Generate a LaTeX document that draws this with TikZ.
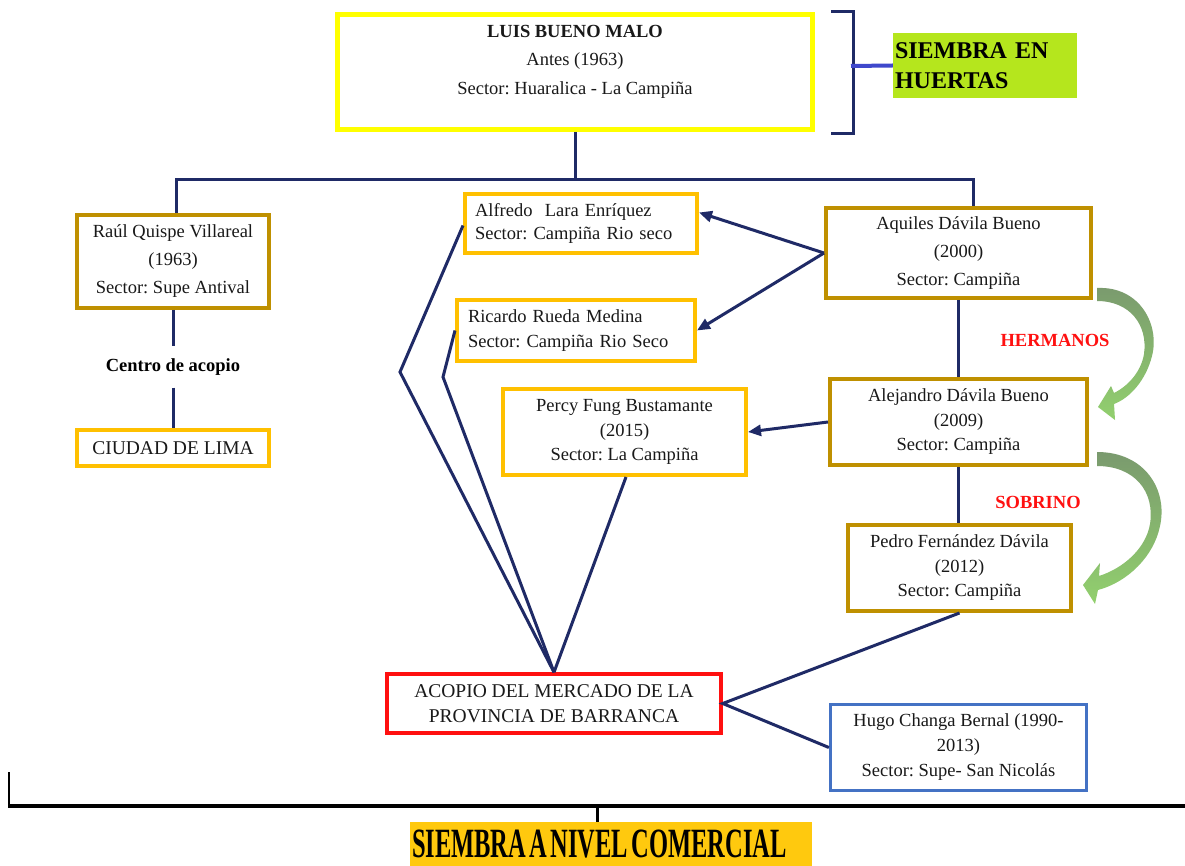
\documentclass[tikz,border=0pt]{standalone}
\usepackage{fontspec}
\setmainfont{Liberation Serif}
\usepackage{graphicx}
\usetikzlibrary{arrows.meta}
\frenchspacing

\definecolor{navyline}{HTML}{1F2A66}
\definecolor{goldline}{HTML}{BF9000}
\definecolor{amberline}{HTML}{FFC000}
\definecolor{topyellow}{HTML}{FFFF00}
\definecolor{limefill}{HTML}{B5E61D}
\definecolor{orangefill}{HTML}{FFC90E}
\definecolor{hugoblue}{HTML}{4472C4}
\definecolor{tickblue}{HTML}{3F48CC}
\definecolor{kinred}{HTML}{FF1010}
\definecolor{arrowtop}{RGB}{122,154,110}
\definecolor{arrowbottom}{RGB}{146,208,110}

\begin{document}
\begin{tikzpicture}[x=1pt,y=-1pt]
    \tikzset{
        link/.style={navyline, line width=3pt},
        arrowlink/.style={link, -{Triangle[length=13pt,width=11pt]}},
        person/.style={draw, fill=white, inner sep=0pt, align=center, text=black!90, font=\fontsize{18.5}{24.5}\selectfont},
        topbox/.style={person, draw=topyellow, line width=5pt},
        goldbox/.style={person, draw=goldline, line width=4pt},
        amberbox/.style={person, draw=amberline, line width=4pt},
        leftbox/.style={amberbox, align=left, inner xsep=10pt},
        kintext/.style={text=kinred, font=\fontsize{18.5}{22}\selectfont\bfseries},
        greenarrow/.style={top color=arrowtop, bottom color=arrowbottom, draw=none}
    }

    \fill[white] (0,0) rectangle (1185,866);
    \useasboundingbox (0,0) rectangle (1185,866);

    % --- 1. RAIZ ---
    \node[topbox, minimum width=475pt, minimum height=115pt, font=\fontsize{18.5}{28.5}\selectfont] (luis) at (575,72)
        {\textbf{LUIS BUENO MALO}\\Antes (1963)\\Sector: Huaralica - La Campiña\\[-4pt]\mbox{}};

    \draw[link] (831,12) -- (853,12) -- (853,134) -- (831,134);
    \coordinate (bracketmid) at (851,66);
    \node[fill=limefill, text width=180pt, align=left, inner sep=2pt, minimum height=65pt,
          font=\fontsize{24}{30}\selectfont\bfseries] (huertas) at (985,65.5) {SIEMBRA EN\\HUERTAS};
    \draw[tickblue, line width=4pt] (bracketmid) -- (huertas.west);

    % --- 2. PRODUCTORES ---
    \node[goldbox, minimum width=192pt, minimum height=93pt, font=\fontsize{18.5}{28}\selectfont] (raul) at (173,261.5)
        {Raúl Quispe Villareal\\(1963)\\Sector: Supe Antival};
    \node[font=\fontsize{18.5}{22}\selectfont\bfseries, inner xsep=2pt, inner ysep=12pt] (centro) at (173,367) {Centro de acopio};
    \node[amberbox, minimum width=192pt, minimum height=36pt, font=\fontsize{19.5}{24}\selectfont] (lima) at (173,448) {CIUDAD DE LIMA};

    \node[leftbox, text width=212pt, minimum height=59pt, font=\fontsize{18.5}{23.5}\selectfont] (alfredo) at (581,223.5)
        {Alfredo~ Lara Enríquez\\Sector: Campiña Rio seco};
    \node[leftbox, inner xsep=11pt, text width=216pt, minimum height=61pt, font=\fontsize{18.5}{25}\selectfont] (ricardo) at (576,330.5)
        {Ricardo Rueda Medina\\Sector: Campiña Rio Seco};
    \node[amberbox, minimum width=243pt, minimum height=86pt] (percy) at (624.5,432)
        {Percy Fung Bustamante\\(2015)\\Sector: La Campiña};

    \node[goldbox, minimum width=265pt, minimum height=90pt, font=\fontsize{18.5}{28}\selectfont] (aquiles) at (958.5,253)
        {Aquiles Dávila Bueno\\(2000)\\Sector: Campiña};
    \node[goldbox, minimum width=257pt, minimum height=86pt] (alejandro) at (958.5,422)
        {Alejandro Dávila Bueno\\(2009)\\Sector: Campiña};
    \node[goldbox, minimum width=223pt, minimum height=86pt] (pedro) at (959.5,568)
        {Pedro Fernández Dávila\\(2012)\\Sector: Campiña};

    \node[kintext] (hermanos) at (1055,340) {HERMANOS};
    \node[kintext] (sobrino) at (1038,502) {SOBRINO};

    % --- 3. MERCADO ---
    \node[person, draw=kinred, line width=3.5pt, minimum width=334pt, minimum height=59pt, font=\fontsize{19.5}{25}\selectfont] (acopio) at (554,703.5)
        {ACOPIO DEL MERCADO DE LA\\PROVINCIA DE BARRANCA};
    \node[person, draw=hugoblue, line width=3.3pt, minimum width=256pt, minimum height=86pt, font=\fontsize{18.5}{25}\selectfont] (hugo) at (958.5,747.5)
        {Hugo Changa Bernal (1990-\\2013)\\Sector: Supe- San Nicolás};

    % Conexiones
    \coordinate (bus) at (575,180);
    \draw[link] (luis.south) -- (bus);
    \draw[link] ([xshift=3pt]raul.north) |- (bus) -| ([xshift=14.5pt]aquiles.north);
    \draw[link] (raul.south) -- (centro.north);
    \draw[link] (centro.south) -- (lima.north);

    \coordinate (kinkA) at (400,372);
    \coordinate (kinkB) at (443,377);
    \draw[link] ([yshift=-2pt]alfredo.west) -- (kinkA) -- (acopio.north);
    \draw[link] (ricardo.west) -- (kinkB) -- (acopio.north);
    \draw[link] ([xshift=1.5pt]percy.south) -- (acopio.north);
    \draw[link] (pedro.south) -- (acopio.east) -- (hugo.west);

    \draw[arrowlink] (aquiles.west) -- ([yshift=11pt]alfredo.east);
    \draw[arrowlink] (aquiles.west) -- (ricardo.east);
    \draw[arrowlink] (alejandro.west) -- (percy.east);

    \draw[link] (aquiles.south) -- (alejandro.north);
    \draw[link] (alejandro.south) -- (pedro.north -| alejandro.south);

    % Flechas verdes
    \shade[greenarrow] (1097,288) .. controls (1140,286) and (1160,325) .. (1152,356)
        .. controls (1146,380) and (1130,398) .. (1114,404) -- (1115,420) -- (1098,407) -- (1111,386) -- (1114,393)
        .. controls (1128,386) and (1141,372) .. (1144,354)
        .. controls (1148,325) and (1130,301) .. (1097,301) -- cycle;
    \shade[greenarrow] (1097,452) .. controls (1145,452) and (1168,490) .. (1160,526)
        .. controls (1154,556) and (1128,582) .. (1098,590) -- (1095,604) -- (1083,585) -- (1100,563) -- (1099,576)
        .. controls (1124,568) and (1146,548) .. (1150,524)
        .. controls (1155,492) and (1135,466) .. (1097,466) -- cycle;

    % --- 4. BASE ---
    \draw[black, line width=1.5pt] (9,772) -- (9,806);
    \draw[black, line width=4pt] (8,806) -- (1185,806);
    \coordinate (basebar) at (597,806);
    \node[fill=orangefill, text width=398pt, align=left, inner sep=2pt, minimum height=44pt] (comercial) at (611,844)
        {\scalebox{1}[1.7]{\fontsize{24.5}{24.5}\selectfont\bfseries SIEMBRA A NIVEL COMERCIAL}};
    \draw[black, line width=3pt] (basebar) -- (basebar |- comercial.north);

\end{tikzpicture}
\end{document}
